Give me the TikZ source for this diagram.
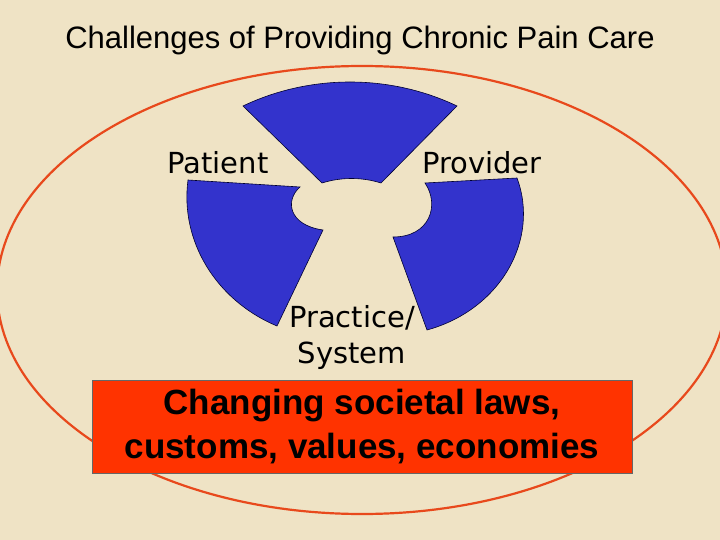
\documentclass[tikz,border=0pt]{standalone}
\usepackage{fontspec}
\setmainfont{Liberation Sans}
\newfontfamily\lblfont{DejaVu Sans}
\begin{document}
\begin{tikzpicture}[x=1pt,y=-1pt,
  sector/.style={fill=blueS,draw=black!80!blue,line width=0.6pt},
  lbl/.style={font=\lblfont\fontsize{29}{36}\selectfont,text=black}]
\definecolor{bg}{HTML}{EFE3C5}
\definecolor{blueS}{HTML}{3333CC}
\definecolor{redE}{HTML}{E8491C}
\definecolor{boxR}{HTML}{FF3300}
\fill[bg] (0,0) rectangle (720,540);
\useasboundingbox (0,0) rectangle (720,540);
\draw[redE,line width=2.2pt] (362,290) ellipse [x radius=365, y radius=224];
\path[sector] (243,106) .. controls (310,74) and (390,74) .. (457,106) -- (381,183) .. controls (362,177) and (341,177) .. (322,183) -- cycle;
\path[sector] (188,180) -- (300,187) .. controls (285,200) and (288,225) .. (323,230) -- (277,326) .. controls (215,300) and (180,240) .. (188,180) -- cycle;
\path[sector] (425,183) -- (517,178) .. controls (540,240) and (500,310) .. (427,330) -- (393,237) .. controls (430,237) and (440,205) .. (425,183) -- cycle;
\node[font=\fontsize{31}{36}\selectfont] (title) at (360,40) {Challenges of Providing Chronic Pain Care};
\node[lbl] (pat) at (218,163) {Patient};
\node[lbl] (prov) at (482,163) {Provider};
\node[lbl,align=center,inner sep=0pt] (prac) at (352,337) {Practice/\\System};
\node[fill=boxR,draw=black!60,minimum width=540pt,minimum height=93pt,align=center,
  font=\bfseries\fontsize{35}{44}\selectfont] (box) at (362,427) {Changing societal laws,\\customs, values, economies};
\end{tikzpicture}
\end{document}
